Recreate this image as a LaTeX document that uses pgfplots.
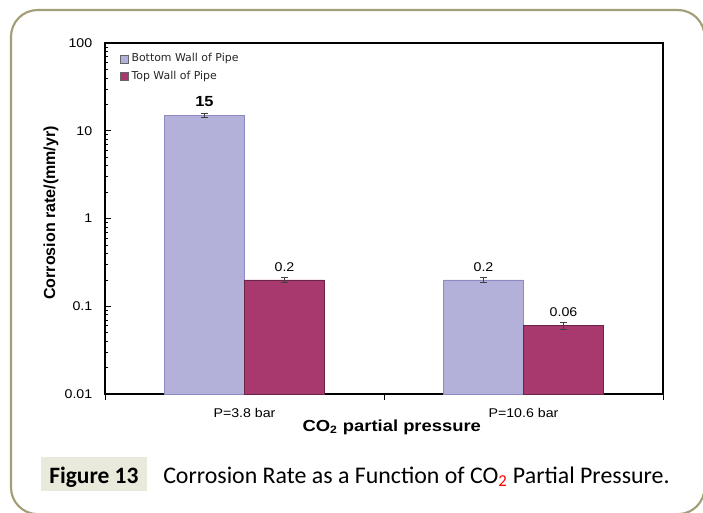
\documentclass[border=0pt]{standalone}
\usepackage{fontspec}
\setmainfont{Carlito}
\newfontfamily\arial{Liberation Sans}
\newfontfamily\legfont{DejaVu Sans}
\usepackage{pgfplots}
\pgfplotsset{compat=1.18}
\definecolor{frame}{HTML}{A39D78}
\definecolor{capbox}{HTML}{E9E9DC}
\definecolor{botfill}{HTML}{B3B0D9}
\definecolor{botdraw}{HTML}{8D89C2}
\definecolor{topfill}{HTML}{A8396F}
\definecolor{topdraw}{HTML}{6B2446}
\begin{document}
\begin{tikzpicture}
\useasboundingbox (0,0) rectangle (527.25pt,-384pt);
\draw[frame, line width=1.6pt, rounded corners=20pt] (8.25pt,-7.5pt) rectangle (528.4pt,-385.6pt);
\fill[capbox] (30.75pt,-342.75pt) rectangle (110.25pt,-368.25pt);
\node[anchor=base west, inner sep=0pt, font=\fontsize{17.6}{20}\selectfont\bfseries] at (36.75pt,-362.25pt) {Figure 13};
\node[anchor=base west, inner sep=0pt, font=\fontsize{17.9}{20}\selectfont] at (122.25pt,-362.25pt) {Corrosion Rate as a Function of CO\textsubscript{\color{red}2} Partial Pressure.};
\begin{axis}[
  at={(78.75pt,-295.5pt)}, anchor=south west,
  scale only axis, width=418.5pt, height=263.25pt,
  ymode=log, log origin=infty, ymin=0.01, ymax=100,
  xmin=-0.5, xmax=1.5,
  ybar=0pt, bar width=60pt,
  log ticks with fixed point,
  /pgf/number format/assume math mode=true,
  /pgf/number format/1000 sep={},
  xtick={-0.5,0.5,1.5},
  x tick label as interval,
  xticklabels={P=3.8 bar,P=10.6 bar},
  xtick pos=bottom, ytick pos=left,
  tick align=inside,
  major tick length=4.5pt, minor tick length=2.25pt,
  xtick style={yshift=-4.5pt},
  tick style={black, line width=0.5pt},
  axis line style={black, line width=0.9pt},
  ticklabel style={font=\arial\fontsize{9.5}{11}\selectfont, xscale=1.12},
  xticklabel style={yshift=-7pt},
  yticklabel style={xshift=-5pt},
  ylabel={Corrosion rate/(mm/yr)},
  ylabel style={at={(axis description cs:-0.097,0.516)}, anchor=center, font=\arial\bfseries\fontsize{12}{14}\selectfont},
  xlabel={CO\textsubscript{2} partial pressure},
  xlabel style={at={(axis description cs:0.514,-0.094)}, anchor=center, xscale=1.15, font=\arial\bfseries\fontsize{12}{14}\selectfont},
  nodes near coords,
  every node near coord/.append style={font=\arial\fontsize{9.5}{11}\selectfont, xscale=1.12, yshift=3pt, text=black},
  legend style={at={(0.027,0.978)}, anchor=north west, draw=none, fill=none, inner sep=0pt,
    font=\legfont\fontsize{8.2}{9}\selectfont, text=black!85, row sep=1.5pt},
  legend cell align=left,
  legend image code/.code={\draw[#1,draw=black!60] (0pt,-3pt) rectangle (6pt,3pt);},
]
\addplot[fill=botfill, draw=botdraw, point meta=explicit symbolic,
  error bars/.cd, y dir=both, y explicit,
  error bar style={black!75, line width=0.6pt},
  error mark options={rotate=90, mark size=2.5pt, line width=0.6pt, black!75}]
  table[x=x, y=y, y error=e, meta=lab] {
x y e lab
0 15 0.8 \bfseries\fontsize{11}{12}\selectfont15
1 0.2 0.015 0.2
};
\addplot[fill=topfill, draw=topdraw, point meta=explicit symbolic,
  error bars/.cd, y dir=both, y explicit,
  error bar style={black!75, line width=0.6pt},
  error mark options={rotate=90, mark size=2.5pt, line width=0.6pt, black!75}]
  table[x=x, y=y, y error=e, meta=lab] {
x y e lab
0 0.2 0.015 0.2
1 0.06 0.005 0.06
};
\legend{Bottom Wall of Pipe, Top Wall of Pipe}
\end{axis}
\end{tikzpicture}
\end{document}
